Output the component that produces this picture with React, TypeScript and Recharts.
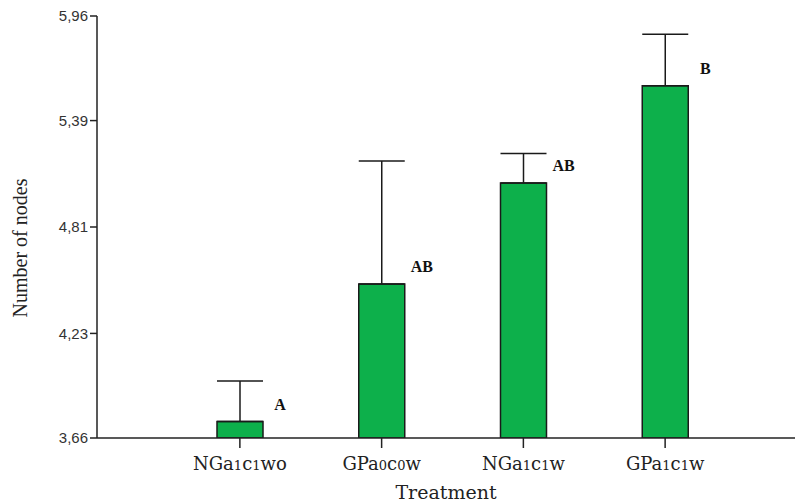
import React from 'react'
import { BarChart, Bar, XAxis, YAxis, ErrorBar, LabelList } from 'recharts'

const treatments = ['NGa1c1wo', 'GPa0c0w', 'NGa1c1w', 'GPa1c1w']
const means = [3.75, 4.5, 5.05, 5.58]
const upperErrors = [0.22, 0.67, 0.16, 0.28]
const groupLetters = ['A', 'AB', 'AB', 'B']
const yTicks = [3.66, 4.23, 4.81, 5.39, 5.96]

const data = treatments.map((name, i) => ({
  name,
  value: means[i],
  err: [0, upperErrors[i]],
  letter: groupLetters[i]
}))

const serif = '"Liberation Serif", "DejaVu Serif", serif'
const wideSerif = '"DejaVu Serif", "Liberation Serif", serif'
const sans = '"Liberation Sans", Arial, sans-serif'

// digits drawn smaller, like the subscripts in the original labels
const TreatmentTick = ({ x, y, payload }: any) => {
  const parts = String(payload.value).split(/(\d)/).filter(Boolean)
  return (
    <text x={x} y={y + 20} textAnchor="middle" fontFamily={wideSerif} fontSize={18} fill="#222">
      {parts.map((p: string, i: number) =>
        /\d/.test(p) ? (
          <tspan key={i} fontSize={13}>{p}</tspan>
        ) : (
          <tspan key={i}>{p}</tspan>
        )
      )}
    </text>
  )
}

const LetterLabel = ({ x, y, width, value }: any) => (
  <text
    x={x + width + 17}
    y={y - 17}
    textAnchor="middle"
    dominantBaseline="central"
    fontFamily={serif}
    fontWeight="bold"
    fontSize={16}
    fill="#111"
  >
    {value}
  </text>
)

const XTitle = ({ viewBox }: any) => (
  <text
    x={viewBox.x + viewBox.width / 2}
    y={499}
    textAnchor="middle"
    fontFamily={wideSerif}
    fontSize={19}
    fill="#222"
  >
    Treatment
  </text>
)

const YTitle = () => (
  <text
    x={20}
    y={248}
    transform="rotate(-90 20 248)"
    textAnchor="middle"
    dominantBaseline="central"
    fontFamily={serif}
    fontSize={20}
    fill="#222"
  >
    Number of nodes
  </text>
)

export default function App() {
  return (
    <div style={{ width: 798, height: 503, background: '#fff' }}>
      <style>{'body{margin:0}'}</style>
      <BarChart
        width={798}
        height={503}
        data={data}
        margin={{ top: 16, right: 3, bottom: 20, left: 20 }}
        barCategoryGap={0}
      >
        <XAxis
          dataKey="name"
          padding={{ left: 72, right: 59 }}
          height={45}
          tick={<TreatmentTick />}
          tickSize={10}
          axisLine={{ stroke: '#222', strokeWidth: 1.5 }}
          tickLine={{ stroke: '#222', strokeWidth: 1.5 }}
          label={<XTitle />}
        />
        <YAxis
          width={77}
          domain={[3.66, 5.96]}
          ticks={yTicks}
          allowDataOverflow
          tickSize={7}
          tickFormatter={(v: number) => v.toFixed(2).replace('.', ',')}
          tick={{ fontFamily: sans, fontSize: 15, fill: '#333' }}
          axisLine={{ stroke: '#222', strokeWidth: 1.5 }}
          tickLine={{ stroke: '#222', strokeWidth: 1.5 }}
          label={<YTitle />}
        />
        <Bar dataKey="value" fill="#0db04b" stroke="#1a1a1a" strokeWidth={1.5} barSize={46} isAnimationActive={false}>
          <ErrorBar dataKey="err" width={23} stroke="#1a1a1a" strokeWidth={1.5} direction="y" />
          <LabelList dataKey="letter" content={<LetterLabel />} />
        </Bar>
      </BarChart>
    </div>
  )
}
